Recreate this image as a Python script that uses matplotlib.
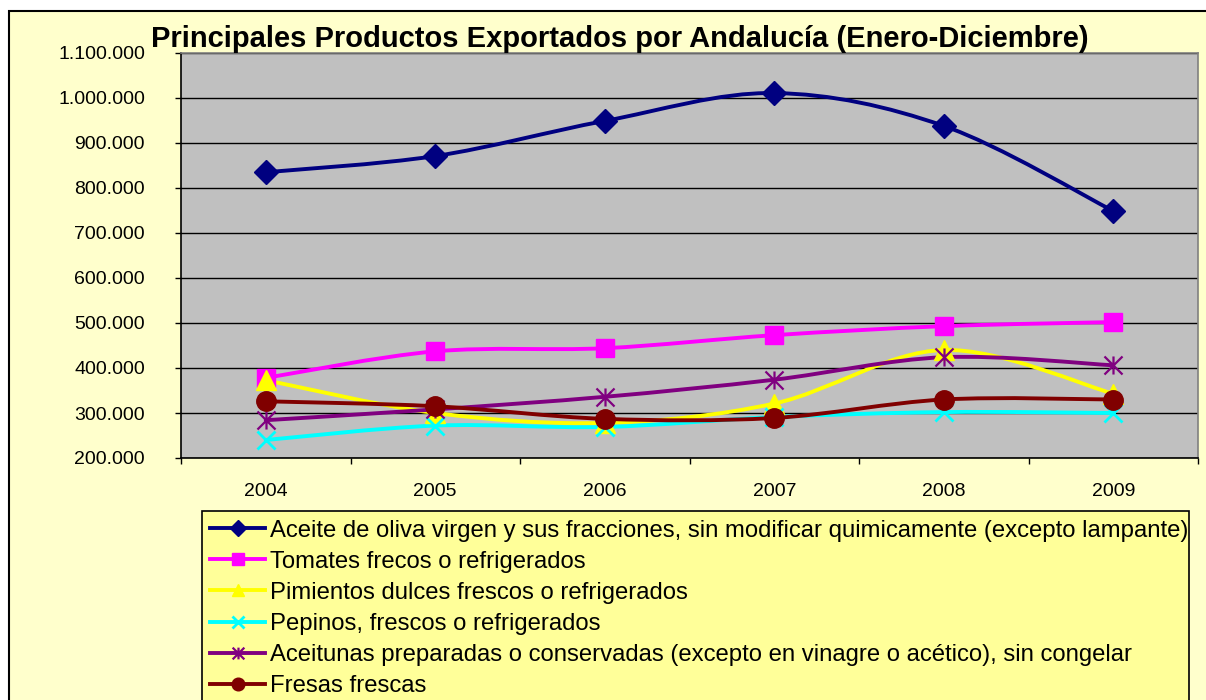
import matplotlib
matplotlib.use("Agg")
import matplotlib.pyplot as plt
from matplotlib.path import Path
from matplotlib.patches import PathPatch, Rectangle
from matplotlib.lines import Line2D
from matplotlib.ticker import FuncFormatter, MultipleLocator, FixedLocator
import numpy as np

plt.rcParams['font.family'] = ['Liberation Sans', 'DejaVu Sans']

title = "Principales Productos Exportados por Andalucía (Enero-Diciembre)"
years = ["2004", "2005", "2006", "2007", "2008", "2009"]

aceite = [835000, 871000, 949000, 1011000, 938000, 749000]
tomates = [378000, 437000, 444000, 473000, 493000, 502000]
pimientos = [373000, 300000, 278000, 321000, 440000, 343000]
pepinos = [240000, 272000, 269000, 291000, 302000, 300000]
aceitunas = [284000, 308000, 336000, 374000, 424000, 406000]
fresas = [326000, 315000, 287000, 289000, 330000, 330000]

labels = [
    "Aceite de oliva virgen y sus fracciones, sin modificar quimicamente (excepto lampante)",
    "Tomates frecos o refrigerados",
    "Pimientos dulces frescos o refrigerados",
    "Pepinos, frescos o refrigerados",
    "Aceitunas preparadas o conservadas (excepto en vinagre o acético), sin congelar",
    "Fresas frescas",
]
series = [aceite, tomates, pimientos, pepinos, aceitunas, fresas]

star = Path([(0, -1), (0, 1), (-1, -1), (1, 1), (-1, 1), (1, -1)],
            [Path.MOVETO, Path.LINETO, Path.MOVETO, Path.LINETO, Path.MOVETO, Path.LINETO])

styles = [
    dict(color="#000080", marker="D", ms=12, mew=1),
    dict(color="#FF00FF", marker="s", ms=13, mew=1),
    dict(color="#FFFF00", marker="^", ms=14, mew=1),
    dict(color="#00FFFF", marker="x", ms=13, mew=2),
    dict(color="#800080", marker=star, ms=13, mew=1.6),
    dict(color="#800000", marker="o", ms=14, mew=1),
]

W, H = 1206, 700
fig = plt.figure(figsize=(W / 100, H / 100), dpi=100, facecolor="white")

# chart area
fig.patches.append(Rectangle((9 / W, -0.05), 1.1, 1 - 11 / H + 0.05, transform=fig.transFigure,
                             facecolor="#FFFFCC", edgecolor="black", linewidth=1.5, zorder=-5))

ax = fig.add_axes([181 / W, 1 - 458 / H, (1198 - 181) / W, (458 - 53) / H])
ax.set_facecolor("#C0C0C0")
ax.set_xlim(0, 6)
ax.set_ylim(200000, 1100000)
ax.yaxis.set_major_locator(MultipleLocator(100000))
ax.yaxis.set_major_formatter(FuncFormatter(lambda v, p: "{:,.0f}".format(v).replace(",", ".")))
ax.grid(axis="y", color="black", linewidth=1)
ax.set_axisbelow(True)
for s in ["top", "right"]:
    ax.spines[s].set_color("#808080")
    ax.spines[s].set_linewidth(1.2)
for s in ["left", "bottom"]:
    ax.spines[s].set_color("black")
    ax.spines[s].set_linewidth(1.2)

ax.xaxis.set_major_locator(FixedLocator(np.arange(0, 7)))
ax.xaxis.set_major_formatter(FuncFormatter(lambda v, p: ""))
ax.set_xticks(np.arange(6) + 0.5, minor=True)
ax.set_xticklabels(years, minor=True)
ax.tick_params(axis="x", which="major", direction="out", length=4, width=1)
ax.tick_params(axis="x", which="minor", length=0, pad=18, labelsize=14)
ax.tick_params(axis="y", direction="out", length=4, width=1, pad=22, labelsize=14)

xs = np.arange(6) + 0.5


def bezier_path(x, y):
    pts = np.column_stack([x, y]).astype(float)
    n = len(pts)
    verts = [tuple(pts[0])]
    codes = [Path.MOVETO]
    for i in range(n - 1):
        p0 = pts[i - 1] if i > 0 else pts[i]
        p1 = pts[i]
        p2 = pts[i + 1]
        p3 = pts[i + 2] if i + 2 < n else pts[i + 1]
        c1 = p1 + (p2 - p0) / 6.0
        c2 = p2 - (p3 - p1) / 6.0
        verts += [tuple(c1), tuple(c2), tuple(p2)]
        codes += [Path.CURVE4] * 3
    return Path(verts, codes)


handles = []
for vals, st, lab in zip(series, styles, labels):
    c = st["color"]
    patch = PathPatch(bezier_path(xs, vals), facecolor="none", edgecolor=c,
                      linewidth=2.8, capstyle="round", joinstyle="round", zorder=3)
    ax.add_patch(patch)
    ax.plot(xs, vals, linestyle="none", marker=st["marker"], ms=st["ms"], mfc=c,
            mec=c, mew=st["mew"], zorder=4, clip_on=False)
    handles.append(Line2D([], [], color=c, linewidth=2.8, marker=st["marker"],
                          ms=st["ms"] * 0.65, mfc=c, mec=c, mew=st["mew"],
                          label=lab))

fig.text(620 / W, 1 - 47 / H, title, ha="center", va="baseline", fontsize=21,
         fontweight="bold", color="black")

leg = fig.legend(handles=handles, loc="upper left",
                 bbox_to_anchor=(202 / W, 1 - 512 / H, (1189 - 202) / W, 0.001),
                 mode="expand", borderaxespad=0, fontsize=17.2, frameon=True, fancybox=False,
                 facecolor="#FFFF99", edgecolor="black", framealpha=1,
                 handlelength=2.3, handletextpad=0.2, labelspacing=0.38, borderpad=0.35)
leg.get_frame().set_linewidth(1.2)

fig.savefig("out.png", dpi=100, facecolor="white")
